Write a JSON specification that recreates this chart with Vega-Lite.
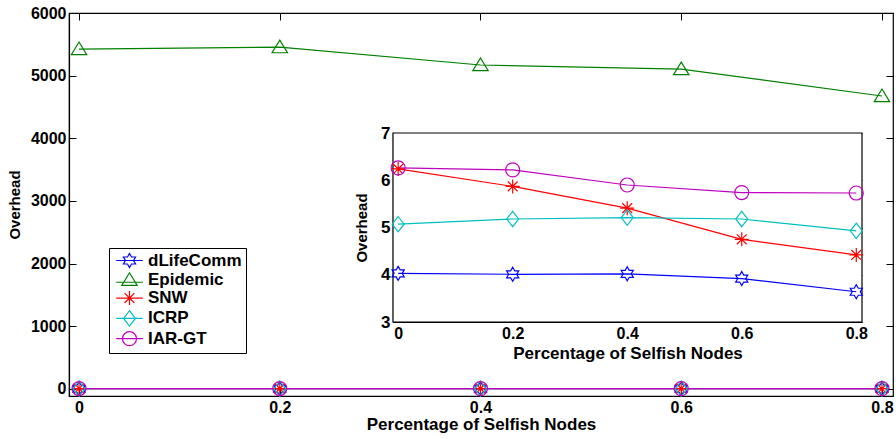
{
  "$schema": "https://vega.github.io/schema/vega-lite/v6.json",
  "width": 824,
  "height": 383,
  "autosize": "none",
  "padding": {"left": 69, "top": 13, "right": 3, "bottom": 43},
  "background": "white",
  "config": {
    "font": "Liberation Sans",
    "view": {"stroke": "black", "strokeWidth": 1.2},
    "axis": {
      "labelFont": "Liberation Sans", "labelFontWeight": "bold", "labelFontSize": 16, "labelColor": "black",
      "titleFont": "Liberation Sans", "titleFontWeight": "bold", "titleFontSize": 16, "titleColor": "black",
      "domainColor": "black", "domainWidth": 1.2, "tickColor": "black", "grid": false,
      "tickSize": -7, "labelPadding": 10
    }
  },
  "data": {
    "values": [
      {"series": "dLifeComm", "x": 0, "y": 4.03},
      {"series": "dLifeComm", "x": 0.2, "y": 4.01},
      {"series": "dLifeComm", "x": 0.4, "y": 4.02},
      {"series": "dLifeComm", "x": 0.6, "y": 3.92},
      {"series": "dLifeComm", "x": 0.8, "y": 3.64},
      {"series": "Epidemic", "x": 0, "y": 5425},
      {"series": "Epidemic", "x": 0.2, "y": 5455},
      {"series": "Epidemic", "x": 0.4, "y": 5170},
      {"series": "Epidemic", "x": 0.6, "y": 5105},
      {"series": "Epidemic", "x": 0.8, "y": 4675},
      {"series": "SNW", "x": 0, "y": 6.24},
      {"series": "SNW", "x": 0.2, "y": 5.87},
      {"series": "SNW", "x": 0.4, "y": 5.41},
      {"series": "SNW", "x": 0.6, "y": 4.75},
      {"series": "SNW", "x": 0.8, "y": 4.42},
      {"series": "ICRP", "x": 0, "y": 5.07},
      {"series": "ICRP", "x": 0.2, "y": 5.18},
      {"series": "ICRP", "x": 0.4, "y": 5.21},
      {"series": "ICRP", "x": 0.6, "y": 5.18},
      {"series": "ICRP", "x": 0.8, "y": 4.93},
      {"series": "IAR-GT", "x": 0, "y": 6.26},
      {"series": "IAR-GT", "x": 0.2, "y": 6.22},
      {"series": "IAR-GT", "x": 0.4, "y": 5.9},
      {"series": "IAR-GT", "x": 0.6, "y": 5.74},
      {"series": "IAR-GT", "x": 0.8, "y": 5.73}
    ]
  },
  "layer": [
    {
      "encoding": {
        "color": {"field": "series", "type": "nominal", "legend": null,
          "scale": {"domain": ["dLifeComm", "Epidemic", "SNW", "ICRP", "IAR-GT"], "range": ["#0000ff", "#008000", "#ff0000", "#00bfbf", "#bf00bf"]}}
      },
      "layer": [
        {"mark": {"type": "line", "strokeWidth": 1.2},
          "encoding": {
            "x": {"field": "x", "type": "quantitative",
              "scale": {"domain": [-0.01, 0.811], "nice": false, "zero": false},
              "axis": {"values": [0, 0.2, 0.4, 0.6, 0.8], "format": ".1~f", "title": "Percentage of Selfish Nodes", "titleFontSize": 17, "titlePadding": 1}},
            "y": {"field": "y", "type": "quantitative",
              "scale": {"domain": [-112, 6000], "nice": false, "zero": false},
              "axis": {"values": [0, 1000, 2000, 3000, 4000, 5000, 6000], "format": "d", "title": "Overhead", "titleFontSize": 15, "titlePadding": 8}}
          }},
        {"mark": {"type": "point", "filled": false, "size": 196, "strokeWidth": 1.2, "opacity": 1},
          "encoding": {
            "x": {"field": "x", "type": "quantitative",
              "axis": {"orient": "top", "values": [0, 0.2, 0.4, 0.6, 0.8], "labels": false, "title": null, "domain": false}},
            "y": {"field": "y", "type": "quantitative",
              "axis": {"orient": "right", "values": [0, 1000, 2000, 3000, 4000, 5000, 6000], "labels": false, "title": null, "domain": false}},
            "shape": {"field": "series", "type": "nominal", "legend": null,
            "scale": {"domain": ["dLifeComm", "Epidemic", "SNW", "ICRP", "IAR-GT"],
              "range": [
                "M0,-1L0.289,-0.5L0.866,-0.5L0.577,0L0.866,0.5L0.289,0.5L0,1L-0.289,0.5L-0.866,0.5L-0.577,0L-0.866,-0.5L-0.289,-0.5Z",
                "M0,-1L1.1,0.8L-1.1,0.8Z",
                "M0,-1V1M-1,0H1M-0.7,-0.7L0.7,0.7M-0.7,0.7L0.7,-0.7",
                "M0,-1.1L0.85,0L0,1.1L-0.85,0Z",
                "circle"]}}}}
      ],
      "resolve": {"axis": {"x": "independent", "y": "independent"}}
    },
    {
      "transform": [{"filter": "datum.series !== 'Epidemic'"}],
      "layer": [
        {
          "data": {"values": [{"x0": -0.009, "x1": 0.81, "y0": 3, "y1": 7}]},
          "mark": {"type": "rect", "fill": "white", "stroke": "black", "strokeWidth": 1.2},
          "encoding": {
            "x": {"field": "x0", "type": "quantitative",
              "scale": {"domain": [-0.009, 0.81], "range": [324, 793], "nice": false, "zero": false},
              "axis": {"values": [0, 0.2, 0.4, 0.6, 0.8], "format": ".1~f", "title": "Percentage of Selfish Nodes", "titleFontSize": 17, "orient": "bottom", "offset": -74}},
            "x2": {"field": "x1"},
            "y": {"field": "y0", "type": "quantitative",
              "scale": {"domain": [3, 7], "range": [309, 120], "nice": false, "zero": false},
              "axis": {"values": [3, 4, 5, 6, 7], "format": "d", "title": "Overhead", "titleFontSize": 15, "titlePadding": 11, "labelFontSize": 17, "orient": "left", "offset": -324}},
            "y2": {"field": "y1"}
          }
        },
        {
          "encoding": {
            "x": {"field": "x", "type": "quantitative",
              "axis": {"orient": "top", "offset": -120, "values": [0, 0.2, 0.4, 0.6, 0.8], "labels": false, "title": null, "domain": false}},
            "y": {"field": "y", "type": "quantitative",
              "axis": {"orient": "right", "offset": -31, "values": [3, 4, 5, 6, 7], "labels": false, "title": null, "domain": false}},
            "color": {"field": "series", "type": "nominal", "legend": null,
              "scale": {"domain": ["dLifeComm", "Epidemic", "SNW", "ICRP", "IAR-GT"], "range": ["#0000ff", "#008000", "#ff0000", "#00bfbf", "#bf00bf"]}}
          },
          "layer": [
            {"mark": {"type": "line", "strokeWidth": 1.2}},
            {"mark": {"type": "point", "filled": false, "size": 196, "strokeWidth": 1.2, "opacity": 1},
              "encoding": {"shape": {"field": "series", "type": "nominal", "legend": null,
                "scale": {"domain": ["dLifeComm", "Epidemic", "SNW", "ICRP", "IAR-GT"],
                  "range": [
                    "M0,-1L0.289,-0.5L0.866,-0.5L0.577,0L0.866,0.5L0.289,0.5L0,1L-0.289,0.5L-0.866,0.5L-0.577,0L-0.866,-0.5L-0.289,-0.5Z",
                    "M0,-1L1.1,0.8L-1.1,0.8Z",
                    "M0,-1V1M-1,0H1M-0.7,-0.7L0.7,0.7M-0.7,0.7L0.7,-0.7",
                    "M0,-1.1L0.85,0L0,1.1L-0.85,0Z",
                    "circle"]}}}}
          ]
        }
      ],
      "resolve": {"axis": {"x": "independent", "y": "independent"}}
    },
    {
      "mark": {"type": "point", "filled": false, "size": 196, "strokeWidth": 1.2, "opacity": 0},
      "encoding": {
        "x": {"field": "x", "type": "quantitative", "axis": null},
        "y": {"field": "y", "type": "quantitative", "axis": null},
        "color": {"field": "series", "type": "nominal",
          "scale": {"domain": ["dLifeComm", "Epidemic", "SNW", "ICRP", "IAR-GT"], "range": ["#0000ff", "#008000", "#ff0000", "#00bfbf", "#bf00bf"]},
          "legend": {"title": null, "orient": "none", "legendX": 40, "legendY": 235, "strokeColor": "black", "fillColor": "white",
            "padding": 4, "symbolOffset": 8, "labelOffset": 10, "rowPadding": 0.3, "symbolSize": 196, "symbolStrokeWidth": 1.2,
            "symbolOpacity": 1, "labelFont": "Liberation Sans", "labelFontWeight": "bold", "labelFontSize": 17, "labelColor": "black"}},
        "shape": {"field": "series", "type": "nominal",
          "scale": {"domain": ["dLifeComm", "Epidemic", "SNW", "ICRP", "IAR-GT"],
            "range": [
              "M-1.9,0H1.9M0,-1L0.289,-0.5L0.866,-0.5L0.577,0L0.866,0.5L0.289,0.5L0,1L-0.289,0.5L-0.866,0.5L-0.577,0L-0.866,-0.5L-0.289,-0.5Z",
              "M-1.9,0.35H1.9M0,-1L1.1,0.8L-1.1,0.8Z",
              "M-1.9,0H1.9M0,-1V1M-0.7,-0.7L0.7,0.7M-0.7,0.7L0.7,-0.7",
              "M-1.9,0H1.9M0,-1.1L0.85,0L0,1.1L-0.85,0Z",
              "M-1.9,0H1.9M1,0A1,1,0,1,1,-1,0A1,1,0,1,1,1,0Z"]},
          "legend": {"title": null, "orient": "none", "legendX": 40, "legendY": 235, "strokeColor": "black", "fillColor": "white",
            "padding": 4, "symbolOffset": 8, "labelOffset": 10, "rowPadding": 0.3, "symbolSize": 196, "symbolStrokeWidth": 1.2,
            "symbolOpacity": 1, "labelFont": "Liberation Sans", "labelFontWeight": "bold", "labelFontSize": 17, "labelColor": "black"}}
      }
    }
  ],
  "resolve": {
    "scale": {"x": "independent", "y": "independent", "color": "independent", "shape": "independent"},
    "axis": {"x": "independent", "y": "independent"}
  }
}
